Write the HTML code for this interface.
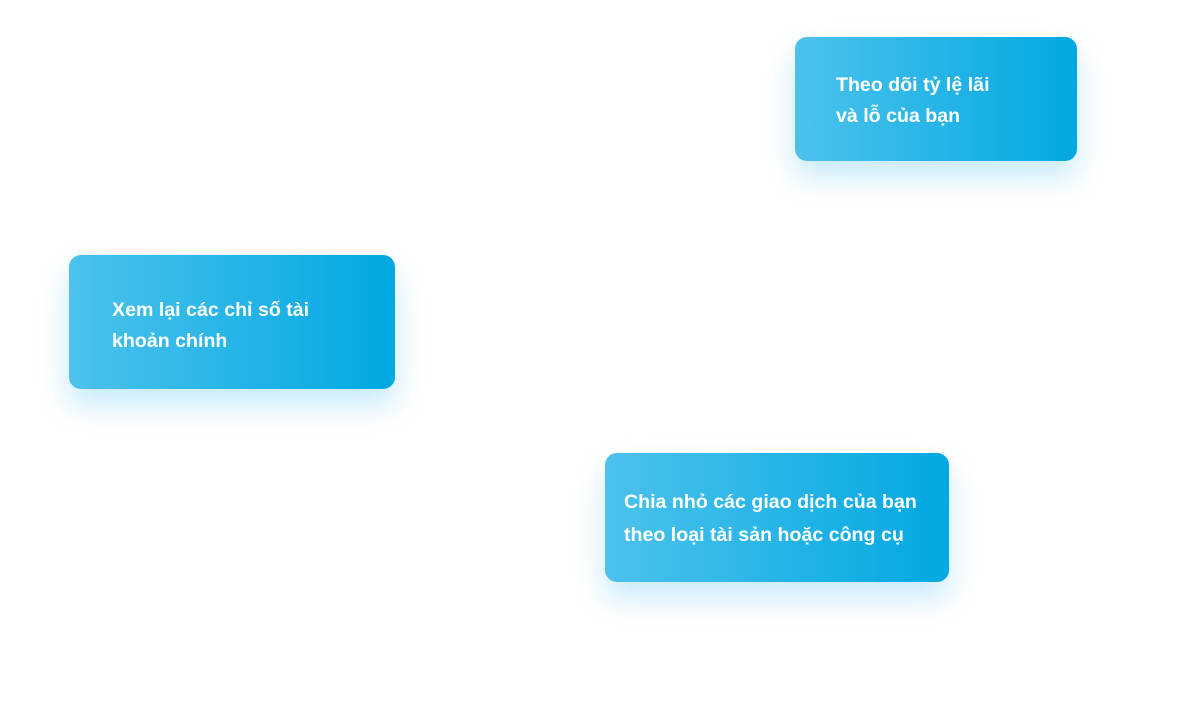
<!DOCTYPE html>
<html><head><meta charset="utf-8"><style>
html,body{margin:0;padding:0;background:#fff;width:1196px;height:720px;overflow:hidden;position:relative}
.b{position:absolute;border-radius:12px;background:linear-gradient(90deg,#4cc2ec,#01a8e2);box-shadow:0 16px 30px rgba(80,190,240,0.32);color:#fff;font-family:"Liberation Sans",sans-serif;font-weight:bold;font-size:19.6px;line-height:31px;box-sizing:border-box;white-space:nowrap}
</style></head><body>
<div class="b" style="left:795px;top:37px;width:282px;height:124px;padding:33px 0 0 41px">Theo dõi tỷ lệ lãi<br>và lỗ của bạn</div>
<div class="b" style="left:69px;top:255px;width:326px;height:134px;padding:40px 0 0 43px">Xem lại các chỉ số tài<br>khoản chính</div>
<div class="b" style="left:605px;top:453px;width:344px;height:129px;padding:33px 0 0 19px;line-height:33px">Chia nhỏ các giao dịch của bạn<br>theo loại tài sản hoặc công cụ</div>
</body></html>
